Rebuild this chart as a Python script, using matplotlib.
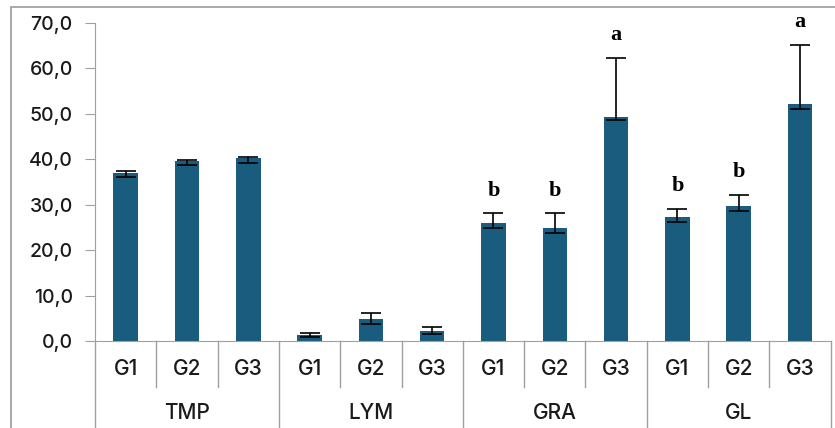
import matplotlib.pyplot as plt
import matplotlib.transforms as mtransforms
from matplotlib.patches import Rectangle
import numpy as np

plt.rcParams['font.family'] = ['Inter', 'DejaVu Sans']
plt.rcParams['font.weight'] = 'medium'

groups = ['TMP', 'LYM', 'GRA', 'GL']
subgroups = ['G1', 'G2', 'G3']
values = [36.9, 39.5, 40.2, 1.4, 4.8, 2.3, 25.9, 24.8, 49.3, 27.2, 29.7, 52.2]
err_low = [0.9, 0.9, 1.0, 0.6, 1.1, 0.8, 1.1, 1.1, 0.6, 1.0, 1.1, 1.1]
err_high = [0.4, 0.2, 0.3, 0.4, 1.3, 0.7, 2.2, 3.3, 13.0, 1.9, 2.5, 12.9]
letters = ['', '', '', '', '', '', 'b', 'b', 'a', 'b', 'b', 'a']

bar_color = '#1a5c7e'
line_color = '#a0a0a0'

fig = plt.figure(figsize=(8.35, 4.28), dpi=100)
ax = fig.add_axes([0.1138, 0.2033, 0.881, 0.7437])

x = np.arange(len(values))
ax.bar(x, values, width=0.4, color=bar_color, zorder=2)
ax.errorbar(x, values, yerr=[err_low, err_high], fmt='none', ecolor='black',
            elinewidth=1.2, capsize=7, capthick=1.2, zorder=3)

# significance letters above the error bars
for xi, v, up, lab in zip(x, values, err_high, letters):
    if lab:
        ax.annotate(lab, (xi, v + up), xytext=(0, 9), textcoords='offset points',
                    ha='center', va='bottom', fontsize=16, fontweight='bold',
                    family='Liberation Serif')

ax.set_xlim(-0.5, len(values) - 0.5)
ax.set_ylim(0, 70)
ax.set_yticks(np.arange(0, 71, 10))
ax.set_yticklabels([f'{t:.1f}'.replace('.', ',') for t in np.arange(0, 71, 10)],
                   fontsize=14, color='#1a1a1a')
ax.tick_params(axis='y', length=7, color=line_color, pad=9)
ax.set_xticks([])

for side in ['top', 'right']:
    ax.spines[side].set_visible(False)
ax.spines['left'].set_color(line_color)
ax.spines['bottom'].set_color(line_color)

# two-level category axis
trans = mtransforms.blended_transform_factory(ax.transData, ax.transAxes)
for i in range(len(values)):
    ax.text(i, -0.088, subgroups[i % 3], transform=trans, ha='center',
            va='center', fontsize=15, color='#1a1a1a')
for g, name in enumerate(groups):
    ax.text(g * 3 + 1, -0.226, name, transform=trans, ha='center',
            va='center', fontsize=15, color='#1a1a1a')

for b in np.arange(-0.5, len(values), 1.0):
    long_line = (b + 0.5) % 3 == 0
    y_end = -0.3 if long_line else -0.1445
    ax.plot([b, b], [0, y_end], transform=trans, color=line_color, lw=1,
            clip_on=False)

# outer frame
fig.patches.append(Rectangle((11 / 835, -0.1), 1.2, 1.1 - 7 / 428,
                             transform=fig.transFigure, fill=False,
                             edgecolor='#9a9a9a', lw=1.2))

fig.savefig('out.png', dpi=100)
